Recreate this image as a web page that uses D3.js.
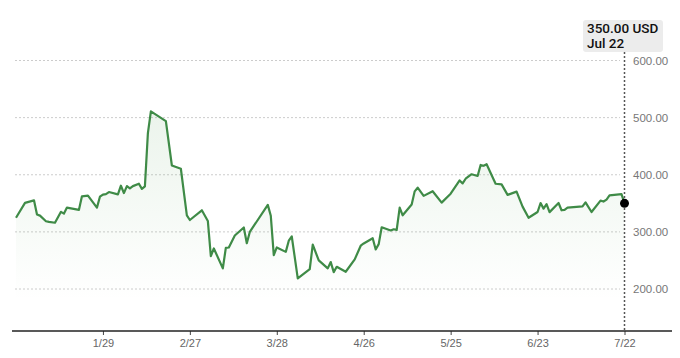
<!DOCTYPE html>
<html>
<head>
<meta charset="utf-8">
<script src="https://cdn.jsdelivr.net/npm/d3@7"></script>
<style>
  body { margin: 0; background: #fff; }
  svg { display: block; font-family: "Liberation Sans", Arial, sans-serif; }
</style>
</head>
<body>
<svg></svg>
<script>
const dates = [
  '2024-12-31','2025-01-03','2025-01-06','2025-01-07','2025-01-08','2025-01-10','2025-01-11','2025-01-13',
  '2025-01-15','2025-01-16','2025-01-17','2025-01-21','2025-01-22','2025-01-24','2025-01-27','2025-01-28',
  '2025-01-29','2025-01-30','2025-01-31','2025-02-03','2025-02-04','2025-02-05','2025-02-06','2025-02-07',
  '2025-02-08','2025-02-10','2025-02-11','2025-02-12','2025-02-13','2025-02-14','2025-02-19','2025-02-21',
  '2025-02-24','2025-02-26','2025-02-27','2025-03-03','2025-03-05','2025-03-06','2025-03-07','2025-03-10',
  '2025-03-11','2025-03-12','2025-03-14','2025-03-17','2025-03-18','2025-03-19','2025-03-25','2025-03-26',
  '2025-03-27','2025-03-28','2025-03-31','2025-04-01','2025-04-02','2025-04-04','2025-04-08','2025-04-09',
  '2025-04-11','2025-04-14','2025-04-15','2025-04-16','2025-04-17','2025-04-20','2025-04-23','2025-04-25',
  '2025-04-26','2025-04-29','2025-04-30','2025-05-01','2025-05-02','2025-05-05','2025-05-06','2025-05-07',
  '2025-05-08','2025-05-09','2025-05-12','2025-05-13','2025-05-14','2025-05-16','2025-05-19','2025-05-22',
  '2025-05-25','2025-05-28','2025-05-29','2025-05-30','2025-05-31','2025-06-01','2025-06-03','2025-06-04',
  '2025-06-05','2025-06-06','2025-06-09','2025-06-11','2025-06-13','2025-06-16','2025-06-18','2025-06-20',
  '2025-06-23','2025-06-24','2025-06-25','2025-06-26','2025-06-27','2025-06-30','2025-07-01','2025-07-02',
  '2025-07-03','2025-07-08','2025-07-09','2025-07-11','2025-07-14','2025-07-15','2025-07-16','2025-07-17',
  '2025-07-21','2025-07-22'
]
const prices = [
  324.7,350.8,355.2,330.4,328.5,318.6,317.4,316.0,
  335.1,332.0,342.5,338.6,362.2,363.4,342.5,361.6,
  365.3,366.2,369.7,365.6,380.8,367.9,380.1,376.1,
  380.1,384.3,375.2,379.6,472.9,510.9,493.8,416.2,
  410.5,329.0,320.8,337.8,319.1,257.5,271.0,236.1,
  272.0,272.7,293.6,307.6,280.2,299.9,347.3,328.2,
  259.3,272.7,265.0,284.6,291.9,218.7,234.9,277.6,
  250.0,236.1,247.1,229.6,238.9,230.2,251.8,275.8,
  279.7,288.9,269.2,278.5,308.1,302.4,304.6,303.4,
  342.5,329.0,347.9,370.9,377.3,363.0,371.2,351.2,
  366.9,390.1,384.8,393.0,397.0,400.9,397.9,417.1,
  415.7,418.5,384.3,383.1,364.8,370.4,344.2,324.7,
  334.8,350.5,340.7,348.7,334.6,350.5,337.8,338.6,
  342.5,344.7,351.7,334.8,354.7,353.1,356.4,363.9,
  366.2,350.0
]
const xTicks = ['2025-01-29','2025-02-27','2025-03-28','2025-04-26','2025-05-25','2025-06-23','2025-07-22']
const yTicks = [200, 300, 400, 500, 600]
const lastLabel = '350.00 USD'
const lastDate = 'Jul 22'

const width = 680
const height = 358
const parse = d3.timeParse('%Y-%m-%d')
const datas = dates.map((d, i) => ({date: parse(d), value: prices[i]}))
const last = datas[datas.length - 1]

const svg = d3.select('svg').attr('width', width).attr('height', height)

const x = d3.scaleTime()
  .domain([parse('2024-12-31'), parse('2025-07-22')])
  .range([16, 624.5])
const y = d3.scaleLinear()
  .domain([200, 600])
  .range([289, 60.5])
const baseY = 331

// fill gradient
const grad = svg.append('defs').append('linearGradient')
  .attr('id', 'fade')
  .attr('gradientUnits', 'userSpaceOnUse')
  .attr('x1', 0).attr('x2', 0)
  .attr('y1', y(d3.max(prices))).attr('y2', 300)
grad.append('stop').attr('offset', 0).attr('stop-color', '#4c9a4f').attr('stop-opacity', 0.11)
grad.append('stop').attr('offset', 1).attr('stop-color', '#4c9a4f').attr('stop-opacity', 0)

// grid
svg.append('g')
  .selectAll('line')
  .data(yTicks)
  .enter()
  .append('line')
  .attr('x1', 15).attr('x2', 620)
  .attr('y1', d => y(d)).attr('y2', d => y(d))
  .attr('stroke', '#cccccc')
  .attr('stroke-dasharray', '2,2')

svg.append('g')
  .selectAll('text')
  .data(yTicks)
  .enter()
  .append('text')
  .attr('x', 633)
  .attr('y', d => y(d))
  .attr('dy', '0.35em')
  .attr('font-size', 11.5)
  .attr('fill', '#777')
  .text(d => d3.format('.2f')(d))

// area + line
svg.append('path')
  .datum(datas)
  .attr('fill', 'url(#fade)')
  .attr('d', d3.area().x(d => x(d.date)).y0(baseY).y1(d => y(d.value)))

svg.append('path')
  .datum(datas)
  .attr('fill', 'none')
  .attr('stroke', '#3f8b47')
  .attr('stroke-width', 2.2)
  .attr('stroke-linejoin', 'round')
  .attr('d', d3.line().x(d => x(d.date)).y(d => y(d.value)))

// x axis
const xAxis = d3.axisBottom(x)
  .tickValues(xTicks.map(parse))
  .tickFormat(d3.timeFormat('%-m/%-d'))
  .tickSize(4)
  .tickPadding(4)
const gx = svg.append('g')
  .attr('transform', 'translate(0,' + baseY + ')')
  .call(xAxis)
gx.select('.domain').remove()
gx.selectAll('.tick line').attr('stroke', '#444')
gx.selectAll('.tick text')
  .attr('fill', '#666')
  .attr('font-size', 11)
  .attr('font-family', '"Liberation Sans", Arial, sans-serif')
svg.append('line')
  .attr('x1', 12).attr('x2', 672)
  .attr('y1', baseY).attr('y2', baseY)
  .attr('stroke', '#222')
  .attr('stroke-width', 1.3)

// crosshair at last point
svg.append('line')
  .attr('x1', x(last.date)).attr('x2', x(last.date))
  .attr('y1', 52).attr('y2', baseY)
  .attr('stroke', '#555')
  .attr('stroke-width', 1.5)
  .attr('stroke-dasharray', '2,2')

svg.append('circle')
  .attr('cx', x(last.date))
  .attr('cy', y(last.value))
  .attr('r', 4.5)
  .attr('fill', '#000')

let tip = svg.append('g').attr('transform', 'translate(583,20)')
tip.append('rect')
  .attr('width', 80).attr('height', 32)
  .attr('rx', 3)
  .attr('fill', '#ececec')
tip.selectAll('text')
  .data([lastLabel, lastDate])
  .enter()
  .append('text')
  .attr('x', 4)
  .attr('y', (d, i) => 12.5 + i * 15)
  .attr('font-family', 'Roboto, "Liberation Sans", sans-serif')
  .attr('font-weight', 500)
  .attr('font-size', 13.5)
  .attr('fill', '#111')
  .text(d => d)
</script>
</body>
</html>
